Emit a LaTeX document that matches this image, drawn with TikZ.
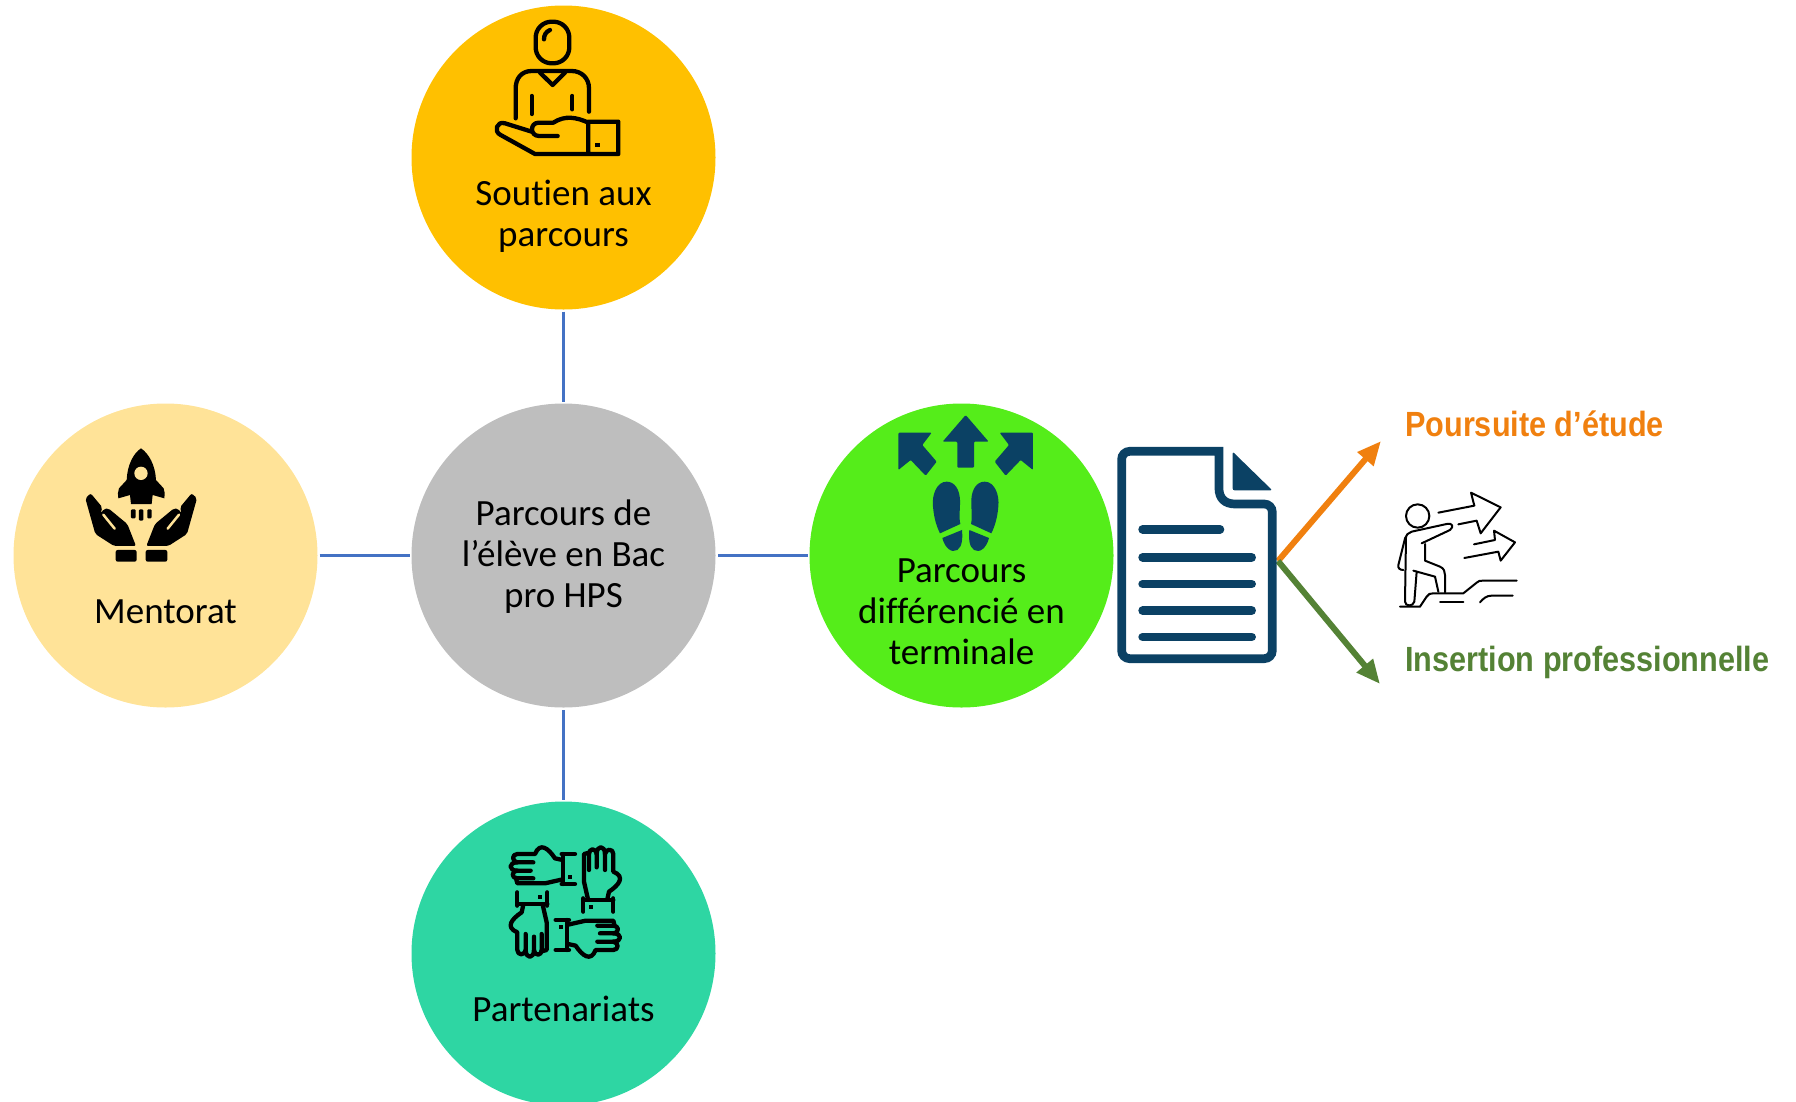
\documentclass[tikz,border=0pt]{standalone}
\usepackage{fontspec}
\setmainfont[Ligatures=NoCommon]{Carlito}
\newfontfamily\narrowfont[FakeStretch=0.875]{Liberation Sans}
\usetikzlibrary{arrows.meta}
\definecolor{yellowc}{HTML}{FFC000}
\definecolor{palec}{HTML}{FFE398}
\definecolor{grayc}{HTML}{BEBEBE}
\definecolor{greenc}{HTML}{55ED1A}
\definecolor{tealc}{HTML}{2ED6A3}
\definecolor{navyc}{HTML}{0B4164}
\definecolor{linkc}{HTML}{4472C4}
\definecolor{orangec}{HTML}{F0800F}
\definecolor{olivec}{HTML}{548235}
\begin{document}
\begin{tikzpicture}[x=1pt,y=-1pt,
    circstyle/.style={circle,minimum size=304pt,inner sep=0pt,outer sep=2pt},
    textstyle/.style={align=center,font=\fontsize{37}{41}\selectfont},
    boldstyle/.style={anchor=west,inner sep=0pt,font=\narrowfont\bfseries\fontsize{35}{41}\selectfont},
    linkstyle/.style={draw=linkc,line width=2.4pt},
    arrowstyle/.style={line width=6pt,-{Triangle[length=24pt,width=20pt]}},
    izoom/.style={x=0.3333pt,y=-0.3333pt},
    thick3/.style={line width=4.3pt,line cap=round,line join=round},
    thin3/.style={line width=2pt,line cap=round,line join=round}]
\path[use as bounding box,clip] (0,0) rectangle (1796,1101);
\node[circstyle,fill=grayc](C) at (563.5,555.5){};
\node[circstyle,fill=yellowc](S) at (563.5,157.5){};
\node[circstyle,fill=palec](M) at (165.5,555.5){};
\node[circstyle,fill=tealc](P) at (563.5,953.5){};
\node[circstyle,fill=greenc](D) at (961.5,555.5){};
\draw[linkstyle] (S)--(C);
\draw[linkstyle] (M)--(C);
\draw[linkstyle] (P)--(C);
\draw[linkstyle] (D)--(C);
\node[textstyle](Ct) at (563.5,557){Parcours de\\l’élève en Bac\\pro HPS};
\node[textstyle](St) at (563.5,216){Soutien aux\\parcours};
\node[textstyle](Mt) at (165.5,612){Mentorat};
\node[textstyle](Pt) at (563.5,1009){Partenariats};
\node[textstyle](Dt) at (961.5,612){Parcours\\différencié en\\terminale};
\node[boldstyle,text=orangec](Po) at (1405,424){Poursuite d’étude};
\node[boldstyle,text=olivec](In) at (1405,662){Insertion professionnelle};
\coordinate(Ds) at (1278,561);
\coordinate(Pe) at (1381,441);
\coordinate(Ie) at (1380,684);
\draw[arrowstyle,orangec] (Ds)--(Pe);
\draw[arrowstyle,olivec] (Ds)--(Ie);
\begin{scope}[shift={(470,0)},izoom,thick3]
\draw[rounded corners=16pt] (197,65) rectangle (298,190);
\draw (222,118) .. controls (222,105) and (228,95) .. (240,90);
\draw (137,355)--(137,265) .. controls (137,235) and (155,213) .. (185,213)--(305,213) .. controls (335,213) and (357,235) .. (357,265)--(357,335);
\draw (210,218)--(248,255)--(285,218);
\draw (185,288)--(185,342);
\draw (307,288)--(307,328);
\draw (263,408)--(207,408) .. controls (180,408) and (178,368) .. (207,368)--(250,368) .. controls (285,345) and (320,352) .. (355,368);
\draw (185,395)--(105,370) .. controls (80,362) and (70,395) .. (92,405)--(195,462)--(445,462)--(445,365)--(355,365)--(355,462);
\fill (376,429) rectangle (389,442);
\end{scope}
\begin{scope}[shift={(70,430)},izoom]
\fill (213,55) .. controls (190,70) and (172,105) .. (170,150)--(147,175) .. controls (143,185) and (143,195) .. (145,205)--(180,195)--(183,222)--(245,222)--(248,195)--(283,205) .. controls (285,195) and (285,185) .. (281,175)--(258,150) .. controls (256,105) and (236,70) .. (213,55)--cycle;
\fill[palec] (213,130) circle (20);
\fill[rounded corners=1pt] (183,238) rectangle (197,265);
\fill[rounded corners=1pt] (207,238) rectangle (220,272);
\fill[rounded corners=1pt] (232,238) rectangle (245,265);
\fill[rounded corners=2pt] (137,360) rectangle (200,395);
\fill[rounded corners=2pt] (227,360) rectangle (292,395);
\foreach \m in {0,1}{
\begin{scope}[cm={1-2*\m,0,0,1,(427*\m,0)}]
\fill[rounded corners=2pt] (46,205)--(62,190)--(97,232)--(92,250)--(103,236)--(115,235)--(172,282)--(198,348)--(132,348)--(76,312)--cycle;
\draw[palec,line width=2.5pt,line cap=round] (100,254)--(134,296);
\end{scope}}
\end{scope}
\begin{scope}[shift={(490,830)},izoom,thick3]
\foreach \a in {0,-90,-180,-270}{
\begin{scope}[rotate around={\a:(226,216)}]
\draw (215,72)--(255,72);
\draw (215,162)--(255,162);
\draw (220,72)--(220,162);
\draw (218,90)--(195,85) .. controls (175,55) and (150,35) .. (135,72)--(82,72) .. controls (65,72) and (65,95) .. (82,97)--(130,97);
\draw (82,97) .. controls (55,97) and (55,122) .. (82,122)--(122,122);
\draw (82,122) .. controls (62,125) and (65,145) .. (82,145)--(130,145);
\draw (78,145)--(82,160)--(165,160)--(218,148);
\fill (234,134) rectangle (246,146);
\end{scope}}
\end{scope}
\begin{scope}[shift={(880,400)},izoom]
\fill[navyc,rounded corners=1pt] (257,45)--(326,125)--(282,125)--(282,203)--(232,203)--(232,125)--(188,125)--cycle;
\foreach \m in {0,1}{
\begin{scope}[cm={1-2*\m,0,0,1,(514*\m,0)}]
\fill[navyc,rounded corners=1pt] (55,98)--(155,98)--(127,135)--(170,185)--(137,227)--(92,180)--(55,210)--cycle;
\fill[navyc] (200,245) .. controls (170,245) and (155,285) .. (159,320) .. controls (162,355) and (170,380) .. (180,400)--(241,372) .. controls (236,350) and (241,325) .. (240,300) .. controls (239,270) and (225,245) .. (200,245)--cycle;
\fill[navyc] (187,414)--(246,390) .. controls (248,410) and (248,440) .. (232,450) .. controls (215,460) and (195,445) .. (187,414)--cycle;
\end{scope}}
\draw[navyc,line width=8.7pt,rounded corners=8pt] (1017,154)--(725,154)--(725,776)--(1177,776)--(1177,312)[sharp corners]--(1065,312) .. controls (1035,312) and (1017,295) .. (1017,265)--cycle;
\fill[navyc,rounded corners=2pt] (1058,155)--(1177,271)--(1058,271)--cycle;
\foreach \ly/\lx in {388/1020,472/1115,552/1115,632/1115,711/1115}{
\draw[navyc,line width=8.7pt,line cap=round] (788,\ly)--(\lx,\ly);}
\end{scope}
\begin{scope}[shift={(1380,390)},izoom,thin3]
\draw (113,378) circle (35);
\draw (175,368)--(283,347)--(273,308)--(362,352)--(302,430)--(290,392)--(235,403);
\draw (282,463)--(345,450)--(342,422)--(405,457)--(362,512)--(355,485)--(253,504);
\draw (125,460)--(210,420) .. controls (222,410) and (218,398) .. (200,402)--(95,425) .. controls (85,428) and (78,435) .. (75,445)--(55,525) .. controls (53,535) and (60,540) .. (70,540);
\draw (78,440)--(75,635) .. controls (75,650) and (100,650) .. (103,635)--(110,545);
\draw (135,462)--(135,512)--(180,530) .. controls (192,535) and (195,545) .. (195,555)--(195,607);
\draw (100,542)--(165,560)--(175,605);
\draw (60,650)--(120,650)--(140,620) .. controls (145,612) and (150,610) .. (160,610)--(250,610)--(290,578) .. controls (295,572) and (300,572) .. (310,572)--(410,572);
\draw (180,635)--(250,635);
\draw (300,637) .. controls (310,625) and (320,617) .. (335,617)--(398,617);
\end{scope}
\end{tikzpicture}
\end{document}
